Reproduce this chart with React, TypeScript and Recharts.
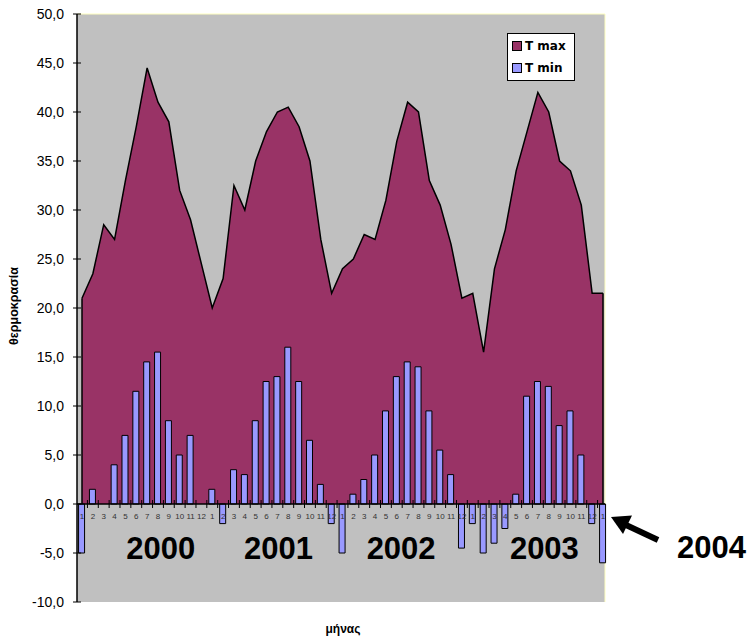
import React from 'react';
import {
  ComposedChart,
  Area,
  Bar,
  XAxis,
  YAxis,
  CartesianGrid,
  ReferenceLine,
  ReferenceDot,
} from 'recharts';

// months (tick labels), one per point: Jan 2000 .. Jan 2004
const monthLabels = [
  1, 2, 3, 4, 5, 6, 7, 8, 9, 10, 11, 12,
  1, 2, 3, 4, 5, 6, 7, 8, 9, 10, 11, 12,
  1, 2, 3, 4, 5, 6, 7, 8, 9, 10, 11, 12,
  1, 2, 3, 4, 5, 6, 7, 8, 9, 10, 11, 12,
  1,
];

const tMax = [
  21, 23.5, 28.5, 27, 33, 38.5, 44.5, 41, 39, 32, 29, 24.5,
  20, 23, 32.5, 30, 35, 38, 40, 40.5, 38.5, 35, 27, 21.5,
  24, 25, 27.5, 27, 31, 37, 41, 40, 33, 30.5, 26.5, 21,
  21.5, 15.5, 24, 28, 34, 38, 42, 40, 35, 34, 30.5, 21.5,
  21.5,
];

const tMin = [
  -5, 1.5, 0, 4, 7, 11.5, 14.5, 15.5, 8.5, 5, 7, 0,
  1.5, -2, 3.5, 3, 8.5, 12.5, 13, 16, 12.5, 6.5, 2, -2,
  -5, 1, 2.5, 5, 9.5, 13, 14.5, 14, 9.5, 5.5, 3, -4.5,
  -2, -5, -4, -2.5, 1, 11, 12.5, 12, 8, 9.5, 5, -2,
  -6,
];

const yTicks = [-10, -5, 0, 5, 10, 15, 20, 25, 30, 35, 40, 45, 50];

const years = ['2000', '2001', '2002', '2003'];
const yearPos = [7.25, 18.1, 29.4, 42.6];

const seriesNames = ['T max', 'T min'];
const seriesColors = ['#993366', '#9999FF'];

const data = monthLabels.map((m, i) => ({ i, month: m, tmax: tMax[i], tmin: tMin[i] }));
const lastIdx = monthLabels.length - 1;

const W = 749;
const H = 641;
const PLOT_LEFT = 77;
const PLOT_TOP = 14;
const PLOT_RIGHT = 605;
const PLOT_BOTTOM = 602;
const Y_MIN = -10;
const Y_MAX = 50;
const ZERO_Y = PLOT_TOP + ((Y_MAX - 0) / (Y_MAX - Y_MIN)) * (PLOT_BOTTOM - PLOT_TOP);
const STEP = (PLOT_RIGHT - 2 - (PLOT_LEFT + 5)) / lastIdx;

const font = 'Arial, "Liberation Sans", sans-serif';

const fmt = (v: number) => v.toFixed(1).replace('.', ',');

function MonthTick(props: any) {
  const { x, payload } = props;
  const idx = payload.value as number;
  return (
    <g>
      {idx !== lastIdx && (
        <line x1={x + STEP / 2} x2={x + STEP / 2} y1={ZERO_Y - 4} y2={ZERO_Y + 4} stroke="#000" strokeWidth={1} />
      )}
      <text x={x} y={ZERO_Y + 15} textAnchor="middle" fontSize={8} fill="#333" fontFamily={font}>
        {monthLabels[idx]}
      </text>
    </g>
  );
}

function TempTick(props: any) {
  const { y, payload } = props;
  return (
    <g>
      <line x1={PLOT_LEFT - 4} x2={PLOT_LEFT + 4} y1={y} y2={y} stroke="#000" strokeWidth={1} />
      <text x={PLOT_LEFT - 13} y={y} dy={5} textAnchor="end" fontSize={14} fill="#000" fontFamily={font}>
        {fmt(payload.value)}
      </text>
    </g>
  );
}

function LegendBox() {
  return (
    <div
      style={{
        position: 'absolute',
        left: 507,
        top: 33,
        background: '#fff',
        border: '1px solid #000',
        padding: '1px 4px 1px 4px',
        width: 58,
        fontFamily: '"DejaVu Sans", sans-serif',
        fontWeight: 'bold',
        fontSize: 12,
        color: '#000',
        lineHeight: '22px',
      }}
    >
      {seriesNames.map((n, k) => (
        <div key={n} style={{ display: 'flex', alignItems: 'center' }}>
          <span
            style={{
              display: 'inline-block',
              width: 8,
              height: 8,
              background: seriesColors[k],
              border: '1px solid #000',
              marginRight: 3,
            }}
          />
          {n}
        </div>
      ))}
    </div>
  );
}

export default function App() {
  return (
    <div style={{ position: 'absolute', left: 0, top: 0, width: W, height: H, background: '#fff' }}>
      <ComposedChart
        width={W}
        height={H}
        data={data}
        margin={{ top: PLOT_TOP, right: W - PLOT_RIGHT, bottom: H - PLOT_BOTTOM - 30, left: 0 }}
      >
        <CartesianGrid
          fill="#C0C0C0"
          stroke="#FFFFC0"
          horizontalPoints={[PLOT_TOP]}
          verticalPoints={[PLOT_RIGHT]}
        />
        <XAxis
          dataKey="i"
          type="number"
          domain={[0, lastIdx]}
          ticks={data.map((d) => d.i)}
          interval={0}
          padding={{ left: 5, right: 2 }}
          axisLine={false}
          tickLine={false}
          tick={<MonthTick />}
          height={30}
        />
        <YAxis
          type="number"
          domain={[Y_MIN, Y_MAX]}
          ticks={yTicks}
          interval={0}
          width={PLOT_LEFT}
          axisLine={{ stroke: '#000', strokeWidth: 1.5 }}
          tickLine={false}
          tick={<TempTick />}
        />
        <Area
          type="linear"
          dataKey="tmax"
          name="T max"
          baseValue={0}
          fill="#993366"
          fillOpacity={1}
          stroke="#000"
          strokeWidth={1.5}
          isAnimationActive={false}
        />
        {/* outline of the area's two vertical ends */}
        <ReferenceLine
          segment={[{ x: 0, y: 0 }, { x: 0, y: tMax[0] }]}
          stroke="#000"
          strokeWidth={1.5}
        />
        <ReferenceLine
          segment={[{ x: lastIdx, y: 0 }, { x: lastIdx, y: tMax[lastIdx] }]}
          stroke="#000"
          strokeWidth={1.5}
        />
        <Bar
          dataKey="tmin"
          name="T min"
          barSize={6}
          fill="#9999FF"
          stroke="#000"
          strokeWidth={1}
          isAnimationActive={false}
        />
        <ReferenceLine y={0} stroke="#000" strokeWidth={1.5} />
        {years.map((yr, k) => (
          <ReferenceDot
            key={yr}
            x={yearPos[k]}
            y={-4.5}
            r={0}
            fill="none"
            stroke="none"
            label={{
              value: yr,
              position: 'center',
              fill: '#000',
              fontSize: 31,
              fontWeight: 'bold',
              fontFamily: font,
            }}
          />
        ))}
      </ComposedChart>

      <LegendBox />

      <div
        style={{
          position: 'absolute',
          left: 13.5,
          top: 306,
          transform: 'translate(-50%, -50%) rotate(-90deg)',
          fontFamily: font,
          fontWeight: 'bold',
          fontSize: 12.5,
          whiteSpace: 'nowrap',
        }}
      >
        θερμοκρασία
      </div>
      <div
        style={{
          position: 'absolute',
          left: 343,
          top: 629,
          transform: 'translate(-50%, -50%)',
          fontFamily: font,
          fontWeight: 'bold',
          fontSize: 12,
          whiteSpace: 'nowrap',
        }}
      >
        μήνας
      </div>
      <div
        style={{
          position: 'absolute',
          left: 677,
          top: 547,
          transform: 'translateY(-50%)',
          fontFamily: font,
          fontWeight: 'bold',
          fontSize: 31,
          lineHeight: 1,
        }}
      >
        2004
      </div>
      <svg style={{ position: 'absolute', left: 0, top: 0, pointerEvents: 'none' }} width={W} height={H}>
        <line x1={626} y1={525} x2={658} y2={540} stroke="#000" strokeWidth={6} />
        <polygon points="611,517 632,515.5 623,534" fill="#000" />
      </svg>
    </div>
  );
}
